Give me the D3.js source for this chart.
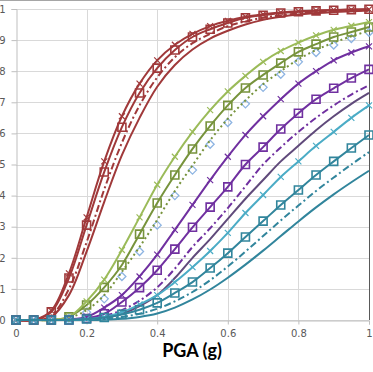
<!DOCTYPE html>
<html>
<head>
<meta charset="utf-8">
<script src="https://cdn.jsdelivr.net/npm/d3@7"></script>
<style>
  body { margin: 0; background: #fff; overflow: hidden; }
  svg { display: block; }
</style>
</head>
<body>
<div class="chart"></div>
<script>
// PGA values (g) where the curves were read
var pga = [0, 0.05, 0.1, 0.15, 0.2, 0.25, 0.3, 0.35, 0.4, 0.45, 0.5,
           0.55, 0.6, 0.65, 0.7, 0.75, 0.8, 0.85, 0.9, 0.95, 1];

var xTicks = [0, 0.2, 0.4, 0.6, 0.8, 1];
var yTicks = [0, 0.1, 0.2, 0.3, 0.4, 0.5, 0.6, 0.7, 0.8, 0.9, 1];

// red group
var red1 = [0, 0, 0.03, 0.15, 0.33, 0.51, 0.655, 0.76, 0.835, 0.885, 0.92, 0.945, 0.962, 0.975, 0.983, 0.989, 0.993, 0.995, 0.997, 0.998, 0.999];
var red2 = [0, 0, 0.026, 0.135, 0.305, 0.476, 0.62, 0.73, 0.81, 0.868, 0.91, 0.935, 0.955, 0.972, 0.98, 0.987, 0.991, 0.994, 0.996, 0.998, 0.999];
var red3 = [0, 0, 0.015, 0.1, 0.25, 0.42, 0.57, 0.69, 0.78, 0.845, 0.89, 0.92, 0.945, 0.96, 0.972, 0.98, 0.986, 0.99, 0.993, 0.995, 0.997];
var red4 = [0, 0, 0.01, 0.08, 0.22, 0.38, 0.53, 0.65, 0.75, 0.82, 0.87, 0.905, 0.93, 0.95, 0.965, 0.975, 0.982, 0.987, 0.99, 0.993, 0.995];
// green group
var green1 = [0, 0, 0, 0.01, 0.06, 0.13, 0.225, 0.33, 0.435, 0.525, 0.605, 0.675, 0.735, 0.785, 0.83, 0.865, 0.892, 0.915, 0.933, 0.946, 0.958];
var green2 = [0, 0, 0, 0.01, 0.048, 0.105, 0.177, 0.276, 0.376, 0.466, 0.55, 0.624, 0.69, 0.746, 0.788, 0.826, 0.862, 0.887, 0.91, 0.926, 0.942];
var green3 = [0, 0, 0, 0.007, 0.032, 0.08, 0.155, 0.235, 0.322, 0.415, 0.497, 0.578, 0.647, 0.706, 0.758, 0.8, 0.838, 0.868, 0.892, 0.912, 0.93];
var green4 = [0, 0, 0, 0.005, 0.025, 0.068, 0.14, 0.22, 0.305, 0.4, 0.482, 0.565, 0.635, 0.695, 0.748, 0.79, 0.83, 0.86, 0.884, 0.905, 0.925];
// purple group
var purple1 = [0, 0, 0, 0.002, 0.01, 0.04, 0.08, 0.14, 0.21, 0.29, 0.37, 0.45, 0.525, 0.595, 0.655, 0.71, 0.76, 0.8, 0.835, 0.86, 0.88];
var purple2 = [0, 0, 0, 0, 0.005, 0.02, 0.058, 0.104, 0.16, 0.228, 0.298, 0.363, 0.428, 0.5, 0.556, 0.614, 0.665, 0.71, 0.745, 0.778, 0.806];
var purple3 = [0, 0, 0, 0, 0.003, 0.012, 0.032, 0.062, 0.105, 0.165, 0.235, 0.295, 0.36, 0.43, 0.5, 0.555, 0.605, 0.65, 0.69, 0.725, 0.755];
var purple4 = [0, 0, 0, 0, 0.001, 0.006, 0.02, 0.045, 0.08, 0.135, 0.2, 0.26, 0.325, 0.39, 0.45, 0.51, 0.56, 0.61, 0.655, 0.695, 0.73];
// teal group
var teal1 = [0, 0, 0, 0, 0.003, 0.01, 0.025, 0.05, 0.08, 0.122, 0.17, 0.222, 0.28, 0.344, 0.402, 0.46, 0.51, 0.56, 0.605, 0.65, 0.69];
var teal2 = [0, 0, 0, 0, 0.003, 0.008, 0.018, 0.033, 0.055, 0.087, 0.122, 0.167, 0.215, 0.267, 0.318, 0.37, 0.418, 0.466, 0.51, 0.553, 0.595];
var teal3 = [0, 0, 0, 0, 0.001, 0.004, 0.01, 0.02, 0.036, 0.06, 0.09, 0.128, 0.172, 0.22, 0.27, 0.32, 0.368, 0.415, 0.458, 0.5, 0.54];
var teal4 = [0, 0, 0, 0, 0, 0.001, 0.004, 0.01, 0.021, 0.04, 0.066, 0.098, 0.136, 0.178, 0.223, 0.27, 0.317, 0.362, 0.404, 0.443, 0.48];

var series = [
  {v: red4,    color: "#A0393A", dash: null,          marker: null},
  {v: red3,    color: "#A0393A", dash: "7,3,2,3",     marker: null},
  {v: red2,    color: "#A0393A", dash: null,          marker: "square"},
  {v: red1,    color: "#A0393A", dash: null,          marker: "x"},
  {v: green4,  color: "#8DB4E2", dash: null,          marker: "diamond", noLine: true},
  {v: green3,  color: "#77933C", dash: "2,3",         marker: null},
  {v: green2,  color: "#77933C", dash: null,          marker: "square"},
  {v: green1,  color: "#9BBB59", dash: null,          marker: "x"},
  {v: purple4, color: "#604A7B", dash: null,          marker: null},
  {v: purple3, color: "#7030A0", dash: "7,3,2,3",     marker: null},
  {v: purple2, color: "#7030A0", dash: null,          marker: "square"},
  {v: purple1, color: "#7030A0", dash: null,          marker: "x"},
  {v: teal4,   color: "#31859C", dash: null,          marker: null},
  {v: teal3,   color: "#31859C", dash: "7,3,2,3",     marker: null},
  {v: teal1,   color: "#4BACC6", dash: null,          marker: "x"},
  {v: teal2,   color: "#31859C", dash: null,          marker: "square"}
];

var width = 373, height = 372;
var margin = {top: 9, right: 4, bottom: 52, left: 16};
var w = width - margin.left - margin.right,
    h = height - margin.top - margin.bottom;

var svg = d3.select(".chart").append("svg")
    .attr("width", width)
    .attr("height", height);

// thin frame line at the very top
svg.append("line")
    .attr("x1", 0).attr("x2", width)
    .attr("y1", 0.5).attr("y2", 0.5)
    .attr("stroke", "#A6A6A6");

var g = svg.append("g")
    .attr("transform", "translate(" + margin.left + "," + margin.top + ")");

var x = d3.scaleLinear().domain([0, 1]).range([0, w]);
var y = d3.scaleLinear().domain([0, 1]).range([h, 0]);

// gridlines
g.append("g").selectAll("line")
    .data(yTicks)
  .enter().append("line")
    .attr("x1", 0).attr("x2", w)
    .attr("y1", function(d) { return Math.round(y(d)) + 0.5; })
    .attr("y2", function(d) { return Math.round(y(d)) + 0.5; })
    .attr("stroke", "#D9D9D9");

g.append("g").selectAll("line")
    .data(xTicks.slice(1, -1))
  .enter().append("line")
    .attr("y1", 0).attr("y2", h)
    .attr("x1", function(d) { return Math.round(x(d)) + 0.5; })
    .attr("x2", function(d) { return Math.round(x(d)) + 0.5; })
    .attr("stroke", "#D9D9D9");

// right border
g.append("line")
    .attr("x1", w + 0.5).attr("x2", w + 0.5)
    .attr("y1", 0).attr("y2", h)
    .attr("stroke", "#595959");

// axes
var xAxis = g.append("g")
    .attr("transform", "translate(0," + (Math.round(h) + 0.5) + ")")
    .call(d3.axisBottom(x).tickValues(xTicks).tickSize(4).tickPadding(5)
      .tickFormat(function(d) { return d; }));
xAxis.select(".domain").attr("stroke", "#BFBFBF");
xAxis.selectAll(".tick line").attr("stroke", "#BFBFBF");
xAxis.selectAll("text")
    .attr("fill", "#595959")
    .style("font-family", "DejaVu Sans")
    .style("font-size", "10px");

// y labels sit partly outside the left edge, as in the source image
var yAxis = g.append("g")
    .attr("transform", "translate(0.5,0)")
    .call(d3.axisLeft(y).tickValues(yTicks).tickSize(5).tickPadding(6)
      .tickFormat(function(d) { return d; }));
yAxis.select(".domain").attr("stroke", "#BFBFBF");
yAxis.selectAll(".tick line").attr("stroke", "#BFBFBF");
yAxis.selectAll("text")
    .attr("fill", "#595959")
    .style("font-family", "DejaVu Sans")
    .style("font-size", "10px");

// curves
var line = d3.line()
    .x(function(d, i) { return x(pga[i]); })
    .y(function(d) { return y(d); })
    .curve(d3.curveCatmullRom.alpha(0.5));

series.forEach(function(s) {
  if (!s.noLine) {
    g.append("path")
        .datum(s.v)
        .attr("fill", "none")
        .attr("stroke", s.color)
        .attr("stroke-width", 2)
        .attr("stroke-dasharray", s.dash)
        .attr("d", line);
  }
  if (!s.marker) return;
  var m = g.append("g").selectAll(".m")
      .data(s.v)
    .enter().append("path")
      .attr("transform", function(d, i) {
        return "translate(" + x(pga[i]) + "," + y(d) + ")";
      })
      .attr("fill", "none")
      .attr("stroke", s.color);
  if (s.marker == "square") {
    m.attr("d", "M-4,-4H4V4H-4Z").attr("stroke-width", 1.6);
  } else if (s.marker == "x") {
    m.attr("d", "M-3,-3L3,3M-3,3L3,-3").attr("stroke-width", 1.2);
  } else {
    m.attr("d", "M0,-4L4,0L0,4L-4,0Z").attr("stroke-width", 1.3);
  }
});

// axis title
svg.append("text")
    .attr("x", 192)
    .attr("y", 357)
    .attr("text-anchor", "middle")
    .style("font-family", "Lato")
    .style("font-weight", "bold")
    .style("font-size", "18px")
    .attr("fill", "#000")
    .text("PGA (g)");
</script>
</body>
</html>
